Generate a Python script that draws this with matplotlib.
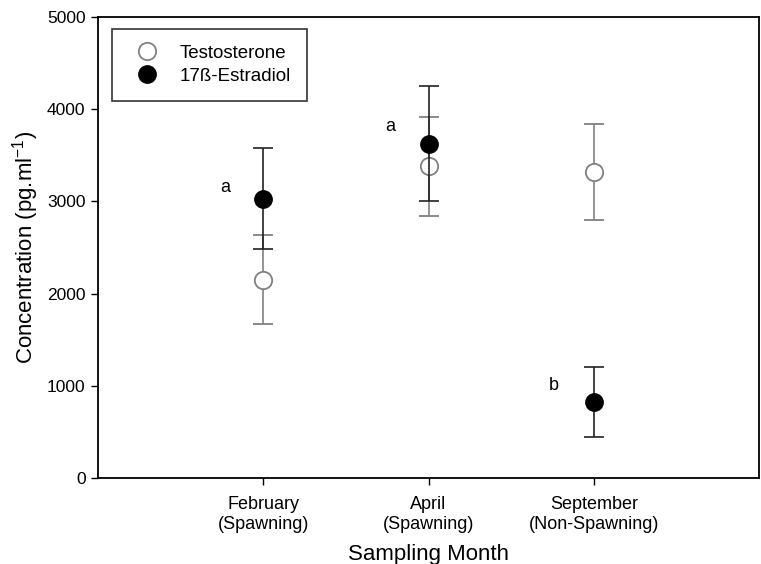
import matplotlib
matplotlib.use("Agg")
import matplotlib.pyplot as plt
from matplotlib.lines import Line2D

plt.rcParams['font.family'] = ['Liberation Sans', 'DejaVu Sans']
plt.rcParams['mathtext.fontset'] = 'custom'
plt.rcParams['mathtext.rm'] = 'Liberation Sans'

months = ["February\n(Spawning)", "April\n(Spawning)", "September\n(Non-Spawning)"]
positions = [1, 2, 3]
testosterone = [2150, 3380, 3315]
testosterone_err = [480, 540, 522]
estradiol = [3030, 3625, 825]
estradiol_err = [545, 625, 377]
letters = ["a", "a", "b"]
letter_x = [0.77, 1.77, 2.76]
letter_y = [3150, 3815, 1000]

fig = plt.figure(figsize=(7.61, 5.64), dpi=100)
ax = fig.add_axes([0.1288, 0.1525, 0.8686, 0.8174])

gray = '#808080'
ax.errorbar(positions, testosterone, yerr=testosterone_err, fmt='o', color=gray,
            ecolor=gray, elinewidth=1.2, capsize=7.5, capthick=1.2,
            markersize=12.5, markerfacecolor='white', markeredgecolor=gray,
            markeredgewidth=1.3, zorder=3)
ax.errorbar(positions, estradiol, yerr=estradiol_err, fmt='o', color='black',
            ecolor='#222222', elinewidth=1.2, capsize=7.5, capthick=1.2,
            markersize=12.5, markerfacecolor='black', markeredgecolor='black',
            zorder=4)

for x, y, t in zip(letter_x, letter_y, letters):
    ax.text(x, y, t, fontsize=13, ha='center', va='center')

ax.set_xlim(0, 4)
ax.set_ylim(0, 5000)
ax.set_xticks(positions)
ax.set_xticklabels(months, fontsize=13)
ax.set_yticks([0, 1000, 2000, 3000, 4000, 5000])
ax.tick_params(axis='y', labelsize=12.5, direction='out', length=5, width=1, pad=4)
ax.tick_params(axis='x', direction='out', length=5, width=1, pad=8)
for s in ax.spines.values():
    s.set_linewidth(1.3)

ax.set_xlabel("Sampling Month", fontsize=16, labelpad=8)
ax.set_ylabel("Concentration (pg.ml$^{\\mathregular{-1}}$)", fontsize=16, labelpad=4)

handles = [
    Line2D([], [], marker='o', linestyle='none', markersize=12.5,
           markerfacecolor='white', markeredgecolor=gray, markeredgewidth=1.3),
    Line2D([], [], marker='o', linestyle='none', markersize=12.5,
           markerfacecolor='black', markeredgecolor='black'),
]
leg = ax.legend(handles, ["Testosterone", "17ß-Estradiol"], loc='upper left',
                bbox_to_anchor=(0.021, 0.974), fontsize=13.5, frameon=True,
                fancybox=False, edgecolor='black', borderpad=0.85,
                handlelength=2.0, handletextpad=0.75, labelspacing=0.3,
                borderaxespad=0)
leg.get_frame().set_linewidth(1.2)

fig.savefig("out.png", dpi=100)
